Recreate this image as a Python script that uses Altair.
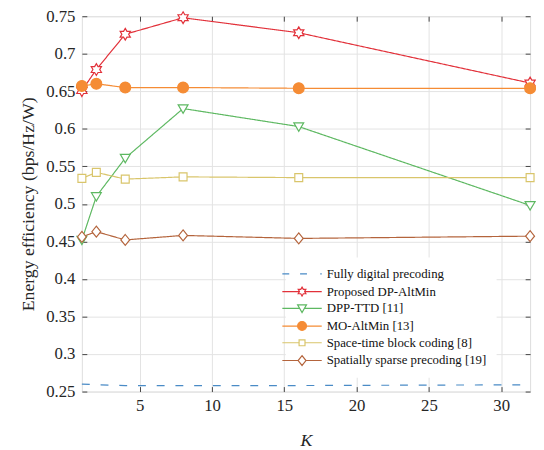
import altair as alt
import pandas as pd

# ---- data ----
K = [1, 2, 4, 8, 16, 32]
series_names = [
    "Fully digital precoding",
    "Proposed DP-AltMin",
    "DPP-TTD [11]",
    "MO-AltMin [13]",
    "Space-time block coding [8]",
    "Spatially sparse precoding [19]",
]
fully_digital = [0.260, 0.259, 0.258, 0.258, 0.258, 0.259]
proposed = [0.651, 0.679, 0.726, 0.748, 0.728, 0.661]
dpp_ttd = [0.452, 0.510, 0.561, 0.627, 0.603, 0.498]
mo_altmin = [0.657, 0.660, 0.655, 0.655, 0.654, 0.654]
stbc = [0.534, 0.542, 0.533, 0.536, 0.535, 0.535]
sparse = [0.456, 0.463, 0.452, 0.458, 0.454, 0.457]

x_ticks = [5, 10, 15, 20, 25, 30]
y_ticks = [0.25, 0.3, 0.35, 0.4, 0.45, 0.5, 0.55, 0.6, 0.65, 0.7, 0.75]

# ---- styles ----
colors = ["#4A8BC6", "#E2313A", "#5DB861", "#F58C35", "#D9C56B", "#B4643C"]
fills = ["white", "white", "white", "#F58C35", "white", "white"]
dashes = [[8, 11], [1, 0], [1, 0], [1, 0], [1, 0], [1, 0]]

# marker outlines (unit = sqrt(size)/2 px)
point_shapes = [
    "M1.1,0A1.1,1.1,0,1,1,-1.1,0A1.1,1.1,0,1,1,1.1,0Z",
    "M0,-1.2L0.346,-0.6L1.04,-0.6L0.693,0L1.04,0.6L0.346,0.6L0,1.2L-0.346,0.6"
    "L-1.04,0.6L-0.693,0L-1.04,-0.6L-0.346,-0.6Z",
    "M-1,-0.75L1,-0.75L0,0.95Z",
    "M1.1,0A1.1,1.1,0,1,1,-1.1,0A1.1,1.1,0,1,1,1.1,0Z",
    "M-0.8,-0.8H0.8V0.8H-0.8Z",
    "M0,-1.1L0.9,0L0,1.1L-0.9,0Z",
]
legend_shapes = [
    "M-4,0H-2.6M-0.4,0H1M3.7,0H4",
    "M-4,0H-0.52M0.52,0H4M0,-0.9L0.26,-0.45L0.78,-0.45L0.52,0L0.78,0.45L0.26,0.45"
    "L0,0.9L-0.26,0.45L-0.78,0.45L-0.52,0L-0.78,-0.45L-0.26,-0.45Z",
    "M-4,0H-0.49M0.49,0H4M-0.9,-0.7L0.9,-0.7L0,0.85Z",
    "M-4,0H-0.9M0.9,0H4M0.9,0A0.9,0.9,0,1,1,-0.9,0A0.9,0.9,0,1,1,0.9,0Z",
    "M-4,0H-0.6M0.6,0H4M-0.6,-0.6H0.6V0.6H-0.6Z",
    "M-4,0H-0.8M0.8,0H4M0,-1L0.8,0L0,1L-0.8,0Z",
]

rows = []
for name, vals in zip(series_names, [fully_digital, proposed, dpp_ttd, mo_altmin, stbc, sparse]):
    for k, v in zip(K, vals):
        rows.append({"series": name, "K": k, "value": v})
df = pd.DataFrame(rows)

FONT = "Liberation Serif"
xscale = alt.Scale(domain=[1, 32], nice=False, zero=False)
yscale = alt.Scale(domain=[0.25, 0.75], nice=False, zero=False)


def color_scale():
    return alt.Scale(domain=series_names, range=colors)


def fill_scale():
    return alt.Scale(domain=series_names, range=fills)


x_main = alt.X("K:Q", scale=xscale, axis=alt.Axis(
    values=x_ticks, grid=True, gridColor="#E3E3E3", gridWidth=1, domain=False,
    tickSize=5, tickColor="#444444", offset=-5, labelPadding=6,
    labelFont=FONT, labelFontSize=17, labelColor="#262626",
    title="K", titleFont=FONT, titleFontSize=18, titleFontStyle="italic",
    titleFontWeight="normal", titleColor="#262626", titlePadding=19))
y_main = alt.Y("value:Q", scale=yscale, axis=alt.Axis(
    values=y_ticks, format=".2~f", grid=True, gridColor="#E3E3E3", gridWidth=1,
    domain=False, tickSize=5, tickColor="#444444", offset=-5, labelPadding=7,
    labelFont=FONT, labelFontSize=17, labelColor="#262626",
    title="Energy efficiency (bps/Hz/W)", titleFont=FONT, titleFontSize=18,
    titleFontWeight="normal", titleColor="#262626", titlePadding=8))

lines = alt.Chart(df).mark_line(strokeWidth=1.2).encode(
    x=x_main,
    y=y_main,
    color=alt.Color("series:N", scale=color_scale(), legend=None),
    strokeDash=alt.StrokeDash("series:N", scale=alt.Scale(domain=series_names, range=dashes), legend=None),
    order=alt.Order("K:Q"),
)

points = alt.Chart(df).transform_filter(
    alt.datum.series != "Fully digital precoding"
).mark_point(strokeWidth=1.2, opacity=1, size=100).encode(
    x=alt.X("K:Q", scale=xscale, axis=None),
    y=alt.Y("value:Q", scale=yscale, axis=None),
    color=alt.Color("series:N", scale=color_scale(), legend=None),
    fill=alt.Fill("series:N", scale=fill_scale(), legend=None),
    shape=alt.Shape("series:N", scale=alt.Scale(domain=series_names, range=point_shapes), legend=None),
)

leg = alt.Legend(
    title=None, orient="none", legendX=207, legendY=245, padding=10,
    fillColor="white", labelFont=FONT, labelFontSize=13, labelColor="#111111",
    symbolSize=100, symbolStrokeWidth=1.2, labelOffset=18.5, rowPadding=3,
    symbolOpacity=1, labelLimit=400,
    labelExpr="datum.label + '            '",
)

legend_layer = alt.Chart(df).transform_filter("false").mark_point(
    size=100, strokeWidth=1.2, opacity=1
).encode(
    x=alt.X("K:Q", scale=xscale, axis=alt.Axis(
        orient="top", values=x_ticks, labels=False, grid=False, domain=False,
        tickSize=5, tickColor="#444444", offset=-5, title=None)),
    y=alt.Y("value:Q", scale=yscale, axis=alt.Axis(
        orient="right", values=y_ticks, labels=False, grid=False, domain=False,
        tickSize=5, tickColor="#444444", offset=-5, title=None)),
    color=alt.Color("series:N", scale=color_scale(), legend=leg),
    fill=alt.Fill("series:N", scale=fill_scale(), legend=leg),
    shape=alt.Shape("series:N", scale=alt.Scale(domain=series_names, range=legend_shapes), legend=leg),
)

chart = alt.layer(lines, points, legend_layer).resolve_scale(
    shape="independent", color="independent", fill="independent"
).resolve_axis(
    x="independent", y="independent"
).properties(
    width=455, height=381,
    autosize=alt.AutoSizeParams(type="none"),
    padding={"left": 75, "top": 5, "right": 6, "bottom": 57},
).configure_view(
    stroke="#444444", strokeWidth=1
).configure(background="white")

chart.save("out.html", embed_options={"renderer": "svg", "actions": False})
